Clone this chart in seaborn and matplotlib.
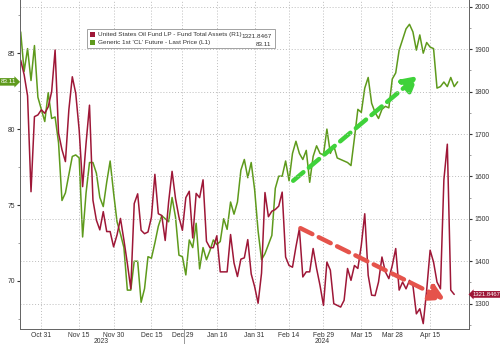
import numpy as np
import pandas as pd
import matplotlib
matplotlib.use("Agg")
import matplotlib.pyplot as plt
import matplotlib.transforms as mtransforms
from matplotlib.patches import Patch
from matplotlib.ticker import MultipleLocator
import seaborn as sns

# Trading sessions, Oct 23 2023 .. Apr 25 2024 (NYMEX holidays removed)
holidays = ["2023-11-23", "2023-12-25", "2024-01-01", "2024-01-15",
            "2024-02-19", "2024-03-29"]
sessions = pd.bdate_range("2023-10-23", "2024-04-25", freq="C", holidays=holidays)

# Generic 1st 'CL' future, last price (left axis)
cl_price = [86.4, 83.8, 85.3, 83.2, 85.5, 82.1, 81.3, 80.5, 82.4, 80.7,
            80.8, 79.1, 75.3, 75.8, 77.0, 78.2, 78.3, 78.1, 72.9, 75.8,
            77.8, 77.8, 77.1, 75.5, 74.9, 76.5, 77.9, 75.8, 73.9, 73.1,
            72.2, 69.4, 69.4, 71.3, 71.3, 68.6, 69.5, 71.6, 71.5, 72.5,
            73.6, 74.3, 74.1, 73.9, 75.5, 74.2, 71.7, 71.6, 70.4, 72.7,
            72.2, 73.8, 70.8, 72.2, 71.4, 72.0, 72.7, 72.4, 72.6, 74.1,
            73.4, 75.2, 74.4, 75.2, 77.3, 78.0, 76.8, 77.8, 76.0, 73.3,
            71.4, 71.8, 72.4, 73.0, 76.1, 76.9, 76.9, 77.9, 76.6, 78.4,
            79.2, 78.4, 78.0, 78.6, 76.5, 78.2, 78.9, 78.4, 78.3, 80.0,
            78.4, 78.9, 78.1, 78.0, 77.9, 77.8, 77.6, 79.4, 81.3, 81.1,
            82.7, 83.4, 81.7, 81.1, 80.7, 81.3, 81.5, 81.4, 83.3, 83.7,
            85.2, 85.9, 86.6, 86.9, 86.4, 85.2, 86.2, 85.0, 85.7, 85.4,
            85.3, 82.7, 82.8, 83.1, 82.8, 83.4, 82.8, 83.11]

# United States Oil Fund LP, fund total assets in $mm (right axis)
uso_assets = [1874, 1840, 1790, 1564, 1741, 1745, 1757, 1749, 1764, 1800,
              1898, 1702, 1663, 1635, 1757, 1835, 1796, 1709, 1576, 1678,
              1768, 1544, 1497, 1474, 1517, 1470, 1470, 1434, 1462, 1501,
              1450, 1395, 1335, 1536, 1559, 1473, 1465, 1469, 1504, 1605,
              1512, 1508, 1449, 1540, 1612, 1548, 1504, 1473, 1550, 1565,
              1455, 1560, 1550, 1592, 1447, 1432, 1432, 1460, 1375, 1375,
              1375, 1463, 1396, 1364, 1405, 1408, 1451, 1370, 1340, 1301,
              1372, 1562, 1505, 1518, 1522, 1530, 1563, 1410, 1390, 1386,
              1434, 1477, 1363, 1375, 1375, 1430, 1383, 1343, 1296, 1398,
              1379, 1300, 1296, 1292, 1308, 1383, 1355, 1390, 1383, 1438,
              1512, 1367, 1320, 1319, 1351, 1410, 1375, 1359, 1390, 1430,
              1332, 1351, 1335, 1355, 1343, 1276, 1288, 1253, 1332, 1426,
              1398, 1351, 1335, 1592, 1676, 1332, 1321.8467]

tick_dates = ["2023-10-31", "2023-11-15", "2023-11-30", "2023-12-15",
              "2023-12-29", "2024-01-16", "2024-01-31", "2024-02-14",
              "2024-02-29", "2024-03-15", "2024-03-28", "2024-04-15"]

cl_label = "Generic 1st 'CL' Future - Last Price (L1)"
uso_label = "United States Oil Fund LP - Fund Total Assets (R1)"

GREEN = "#5e9a1c"
RED = "#9e1737"
ARROW_GREEN = "#3fd23a"
ARROW_RED = "#e5534b"
GRID = "#bdbdbd"
TXT = "#333333"
FS = 4.6

sns.set_style("white")
plt.rcParams["font.family"] = ["Liberation Sans", "DejaVu Sans"]

cl_df = pd.DataFrame({"session": np.arange(len(cl_price)), "price": cl_price})
uso_df = pd.DataFrame({"session": np.arange(len(uso_assets)), "assets": uso_assets})

fig = plt.figure(figsize=(5.0, 3.44), dpi=100)
ax = fig.add_axes([0.040, 0.0445, 0.898, 0.9555])
ax2 = ax.twinx()

sns.lineplot(data=cl_df, x="session", y="price", ax=ax, color=GREEN, lw=1.1)
sns.lineplot(data=uso_df, x="session", y="assets", ax=ax2, color=RED, lw=1.1)

ax.set_xlim(-0.2, 130.3)
ax.set_ylim(66.86, 88.5)
ax2.set_ylim(1241, 2016)

# x ticks at session positions
pos = [sessions.get_loc(pd.Timestamp(d)) for d in tick_dates]
ax.set_xticks(pos)
ax.set_xticklabels([pd.Timestamp(d).strftime("%b %d") for d in tick_dates])
ax.tick_params(axis="x", labelsize=FS + 0.3, colors=TXT, length=1.5, pad=0.8,
               width=0.5)
ax.grid(axis="x", color=GRID, linestyle=(0, (1, 2)), lw=0.7)

ax.yaxis.set_major_locator(MultipleLocator(5))
ax.yaxis.set_minor_locator(MultipleLocator(2.5))
ax.tick_params(axis="y", which="major", labelsize=FS + 0.3, colors=TXT,
               length=2.5, pad=1, width=0.8)
ax.tick_params(axis="y", which="minor", length=1.5, width=0.5, colors="#777777")

ax2.yaxis.set_major_locator(MultipleLocator(100))
ax2.yaxis.set_minor_locator(MultipleLocator(50))
ax2.tick_params(axis="y", which="major", labelsize=FS + 0.3, colors=TXT,
                length=2.5, pad=1.5, width=0.8)
ax2.tick_params(axis="y", which="minor", length=1.5, width=0.5, colors="#777777")
ax2.grid(axis="y", color=GRID, linestyle=(0, (1, 2)), lw=0.7)
for a in (ax, ax2):
    a.set_xlabel("")
    a.set_ylabel("")
    a.spines["top"].set_visible(False)
    for s in ("left", "right", "bottom"):
        a.spines[s].set_color("#666666")
        a.spines[s].set_linewidth(0.7)

# year labels under the date ticks
bx = mtransforms.blended_transform_factory(ax.transData, ax.transAxes)
years = sessions.year
for yr in (2023, 2024):
    idx = np.where(years == yr)[0]
    ax.text((idx[0] + idx[-1]) / 2, -0.027, str(yr), transform=bx,
            ha="center", va="top", fontsize=FS + 0.3, color=TXT, clip_on=False)
split = np.where(years == 2024)[0][0] - 0.5
ax.plot([split, split], [0, -0.05], transform=bx, color="#888888", lw=0.6,
        clip_on=False)

# trend arrows
ax.annotate("", xy=(115.5, 83.5), xytext=(79.2, 76.6), xycoords="data",
            arrowprops=dict(arrowstyle="-|>,head_width=0.5,head_length=0.9",
                            color=ARROW_GREEN, lw=3.2, linestyle=(0, (3, 1.6)),
                            mutation_scale=10, shrinkA=0, shrinkB=0))
ax2.annotate("", xy=(123.4, 1309), xytext=(81.3, 1478), xycoords="data",
             arrowprops=dict(arrowstyle="-|>,head_width=0.5,head_length=0.9",
                             color=ARROW_RED, lw=3.2, linestyle=(0, (3, 1.6)),
                             mutation_scale=10, shrinkA=0, shrinkB=0))

# last-value tags on both axes
tl = mtransforms.blended_transform_factory(ax.transAxes, ax.transData)
ax.text(-0.009, cl_price[-1], f"{cl_price[-1]:.2f}", transform=tl, ha="right",
        va="center", fontsize=FS, color="white", clip_on=False,
        bbox=dict(boxstyle="rarrow,pad=0.2", fc=GREEN, ec="none"))
tr = mtransforms.blended_transform_factory(ax2.transAxes, ax2.transData)
ax2.text(1.007, uso_assets[-1], f"{uso_assets[-1]:.4f}", transform=tr,
         ha="left", va="center", fontsize=4.2, color="white", clip_on=False,
         bbox=dict(boxstyle="larrow,pad=0.15", fc=RED, ec="none"))

# legend with last values
handles = [Patch(fc=RED, ec="none"), Patch(fc=GREEN, ec="none")]
leg = ax2.legend(handles, [uso_label, cl_label], loc="upper left",
                 bbox_to_anchor=(0.149, 0.912, 0.419, 0.0), mode="expand",
                 fontsize=FS, frameon=True, fancybox=False, handlelength=0.8,
                 handleheight=0.8, handletextpad=0.5, labelspacing=0.35,
                 borderpad=0.45, borderaxespad=0)
leg.get_frame().set_edgecolor("#8a8a8a")
leg.get_frame().set_linewidth(0.7)
for t in leg.get_texts():
    t.set_color(TXT)
ax2.text(0.560, 0.889, f"{uso_assets[-1]:.4f}", transform=ax2.transAxes,
         ha="right", va="center", fontsize=FS, color=TXT, zorder=10)
ax2.text(0.560, 0.866, f"{cl_price[-1]:.2f}", transform=ax2.transAxes,
         ha="right", va="center", fontsize=FS, color=TXT, zorder=10)

fig.savefig("out.png", dpi=100)
